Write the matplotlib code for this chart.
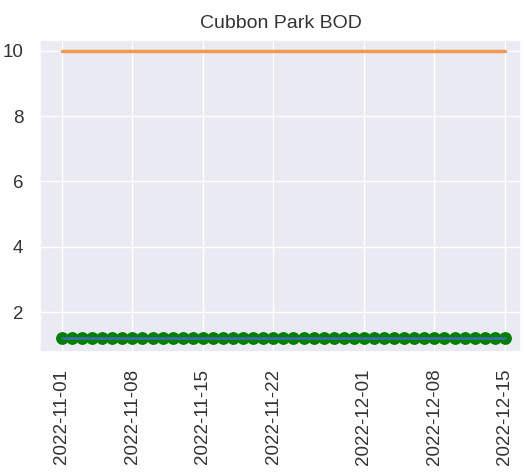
import matplotlib
matplotlib.use("Agg")
import matplotlib.pyplot as plt
import seaborn as sns
import pandas as pd
import numpy as np

sns.set_theme(style="darkgrid")
plt.rcParams['font.family'] = ['Liberation Sans', 'DejaVu Sans']

dates = pd.date_range("2022-11-01", "2022-12-15", freq="D")
bod_values = [1.2] * len(dates)
limit_values = [10] * len(dates)
title = "Cubbon Park BOD"

fig = plt.figure(figsize=(5.24, 4.74), dpi=100)
ax = fig.add_axes([40/524, 1-352/474, (521-40)/524, (352-40)/474])
ax.plot(dates, limit_values, color='#f39a50', linewidth=2.5)
ax.scatter(dates, bod_values, color='green', s=85, zorder=3, linewidths=0)
ax.plot(dates, bod_values, color='#3a6fa8', linewidth=2, zorder=4)

ax.set_xlim(dates[0] - pd.Timedelta(days=2.18), dates[-1] + pd.Timedelta(days=1.6))
ax.set_ylim(0.774, 10.337)
ax.set_yticks([2, 4, 6, 8, 10])
ax.set_title(title, fontsize=14, color='#333333', pad=9)
ax.tick_params(axis='x', rotation=90, labelsize=13.5, colors='#333333', pad=6)
ax.tick_params(axis='y', labelsize=13.5, colors='#333333', pad=6)

fig.savefig("out.png", dpi=100)
